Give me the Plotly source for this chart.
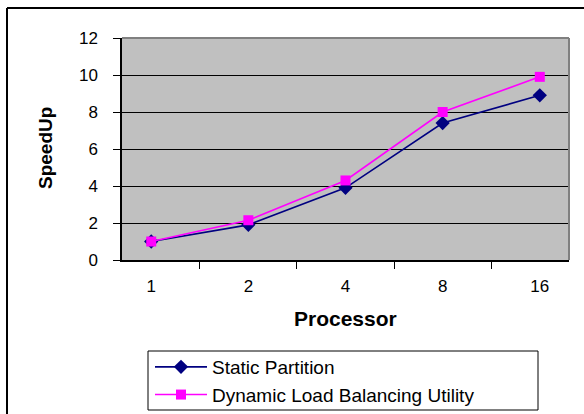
import plotly.graph_objects as go

# Speed-up measured for each processor count
processors = ["1", "2", "4", "8", "16"]
static_partition = [1.0, 1.9, 3.9, 7.4, 8.9]
dynamic_balancing = [1.0, 2.15, 4.3, 8.0, 9.9]
y_ticks = [0, 2, 4, 6, 8, 10, 12]

FONT = "Liberation Sans, Arial, sans-serif"

# pixel layout of the plotting area inside the 584x414 canvas
W, H = 584, 414
L, R, T, B = 122, 569, 38, 260


def px(xp):
    return (xp - L) / (R - L)


def py(yp):
    return (B - yp) / (B - T)


fig = go.Figure()
fig.add_trace(go.Scatter(
    x=processors, y=static_partition, mode="lines+markers",
    name="Static Partition", legendgroup="a",
    line=dict(color="#000080", width=1.6),
    marker=dict(symbol="diamond", size=11, color="#000080"),
))
fig.add_trace(go.Scatter(
    x=processors, y=dynamic_balancing, mode="lines+markers",
    name="Dynamic Load Balancing Utility", legendgroup="b",
    line=dict(color="#FF00FF", width=1.6),
    marker=dict(symbol="square", size=10, color="#FF00FF"),
))

shapes = [
    # outer chart frame: top and left edges
    dict(type="line", xref="paper", yref="paper",
         x0=px(7), x1=px(W), y0=py(8), y1=py(8),
         line=dict(color="black", width=2), layer="below"),
    dict(type="line", xref="paper", yref="paper",
         x0=px(7), x1=px(7), y0=py(8), y1=py(H),
         line=dict(color="black", width=2), layer="below"),
    # grey frame on the top and right of the plotting area
    dict(type="line", xref="paper", yref="paper", x0=0, x1=1, y0=1, y1=1,
         line=dict(color="#808080", width=2), layer="above"),
    dict(type="line", xref="paper", yref="paper", x0=1, x1=1, y0=0, y1=1,
         line=dict(color="#808080", width=2), layer="above"),
    # legend box
    dict(type="rect", xref="paper", yref="paper",
         x0=px(148), x1=px(538), y0=py(410), y1=py(351),
         line=dict(color="black", width=1), fillcolor="white", layer="below"),
]

annotations = [
    dict(text="<b>SpeedUp</b>", textangle=-90, xref="paper", yref="paper",
         x=px(45), y=py(148), xanchor="center", yanchor="middle",
         showarrow=False, font=dict(family=FONT, size=19, color="black")),
    dict(text="<b>Processor</b>", xref="paper", yref="paper",
         x=px(345), y=py(318), xanchor="center", yanchor="middle",
         showarrow=False, font=dict(family=FONT, size=21, color="black")),
]

fig.update_layout(
    width=W, height=H,
    margin=dict(l=L, r=W - R, t=T, b=H - B, autoexpand=False),
    paper_bgcolor="white", plot_bgcolor="#C0C0C0",
    font=dict(family=FONT, size=16, color="black"),
    shapes=shapes, annotations=annotations,
    legend=dict(
        x=px(150), y=py(348), xanchor="left", yanchor="top",
        bgcolor="rgba(0,0,0,0)", borderwidth=0,
        font=dict(family=FONT, size=19, color="black"),
        itemwidth=52, tracegroupgap=0,
    ),
    xaxis=dict(
        type="category", tickson="boundaries",
        showline=True, linecolor="black", linewidth=1.5,
        ticks="outside", ticklen=7, tickcolor="black", tickwidth=1,
        showgrid=False, ticklabelstandoff=10,
        tickfont=dict(family=FONT, size=17),
    ),
    yaxis=dict(
        range=[0, 12], tickvals=y_ticks,
        showline=True, linecolor="black", linewidth=1.5,
        ticks="outside", ticklen=7, tickcolor="black", tickwidth=1,
        showgrid=True, gridcolor="black", gridwidth=1, zeroline=False,
        ticklabelstandoff=12,
        tickfont=dict(family=FONT, size=17),
    ),
)

fig.write_html("out.html")
